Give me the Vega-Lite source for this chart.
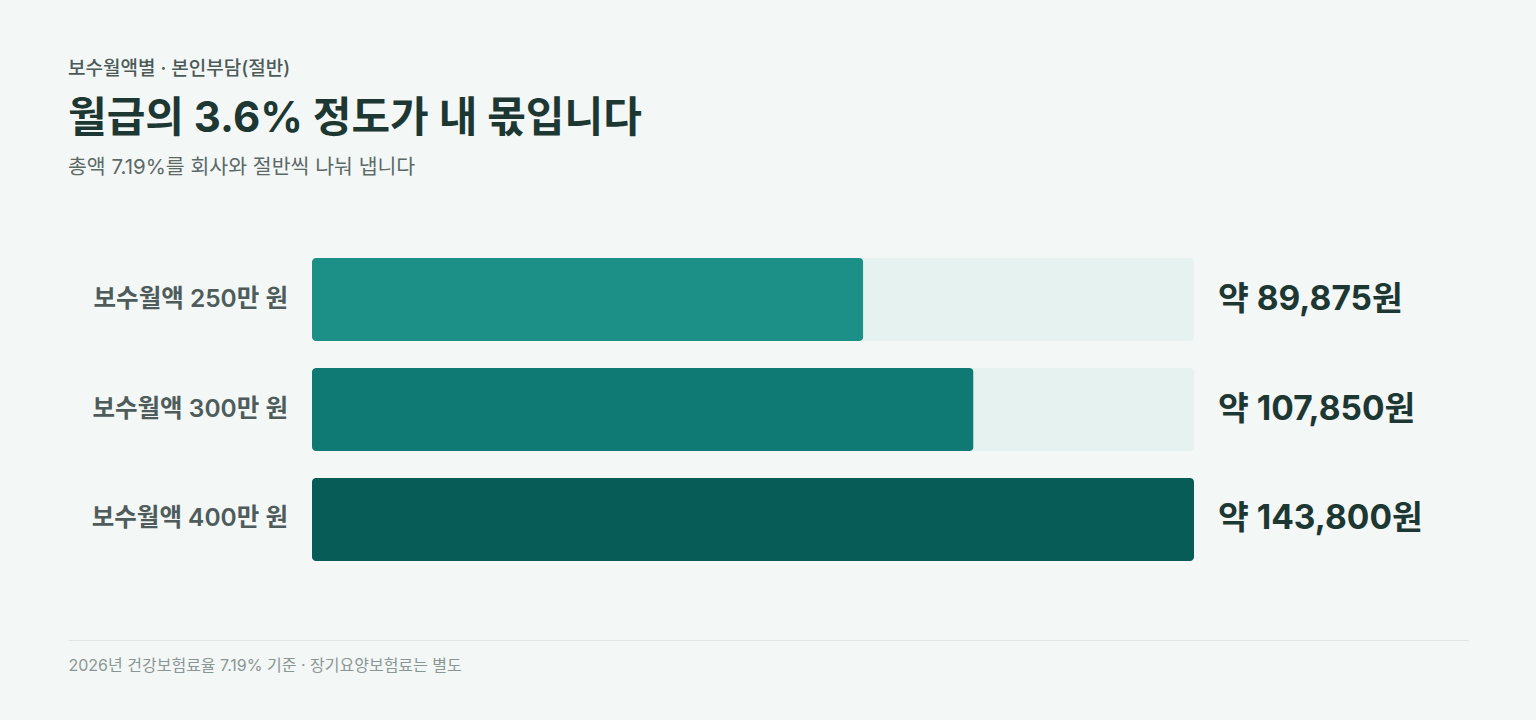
{
  "$schema": "https://vega.github.io/schema/vega-lite/v6.json",
  "background": "#f3f7f6",
  "padding": {"left": 68, "top": 59, "right": 68, "bottom": 47},
  "config": {
    "font": "Inter, 'Noto Sans CJK KR'",
    "view": {"stroke": null},
    "concat": {"spacing": 78}
  },
  "title": {
    "text": "보수월액별 · 본인부담(절반)",
    "anchor": "start",
    "fontSize": 19,
    "fontWeight": 500,
    "color": "#4c5a58",
    "offset": 19
  },
  "vconcat": [
    {
      "title": {
        "text": "월급의 3.6% 정도가 내 몫입니다",
        "subtitle": "총액 7.19%를 회사와 절반씩 나눠 냅니다",
        "anchor": "start",
        "fontSize": 42,
        "fontWeight": 700,
        "color": "#1d3733",
        "subtitleFontSize": 20.5,
        "subtitleColor": "#5b6967",
        "subtitlePadding": 17,
        "offset": 79
      },
      "width": 1126,
      "height": 303,
      "data": {
        "values": [
          {"label": "보수월액 250만 원", "value": 89875},
          {"label": "보수월액 300만 원", "value": 107850},
          {"label": "보수월액 400만 원", "value": 143800}
        ]
      },
      "transform": [
        {"calculate": "'약 ' + format(datum.value, ',') + '원'", "as": "display"}
      ],
      "encoding": {
        "y": {
          "field": "label",
          "type": "nominal",
          "sort": null,
          "scale": {"paddingInner": 0.245, "paddingOuter": 0},
          "axis": null
        }
      },
      "layer": [
        {
          "mark": {"type": "bar", "cornerRadius": 4, "color": "#e6f2f0"},
          "encoding": {
            "x": {
              "datum": 143800,
              "type": "quantitative",
              "scale": {"domain": [0, 143800], "nice": false, "range": [244, 1126]},
              "axis": null
            }
          }
        },
        {
          "mark": {"type": "bar", "cornerRadius": 4},
          "encoding": {
            "x": {"field": "value", "type": "quantitative"},
            "color": {
              "field": "label",
              "type": "nominal",
              "sort": null,
              "scale": {"range": ["#1c9087", "#0e7a73", "#075c57"]},
              "legend": null
            }
          }
        },
        {
          "mark": {
            "type": "text",
            "align": "right",
            "baseline": "middle",
            "dx": -24,
            "fontSize": 24.5,
            "fontWeight": 600,
            "color": "#4e5c5b"
          },
          "encoding": {
            "x": {"datum": 0, "type": "quantitative"},
            "text": {"field": "label", "type": "nominal"}
          }
        },
        {
          "mark": {
            "type": "text",
            "align": "left",
            "baseline": "middle",
            "dx": 24,
            "fontSize": 33.5,
            "fontWeight": 700,
            "color": "#1d3733"
          },
          "encoding": {
            "x": {"datum": 143800, "type": "quantitative"},
            "text": {"field": "display", "type": "nominal"}
          }
        }
      ]
    },
    {
      "width": 1400,
      "height": 1,
      "data": {"values": [{}]},
      "mark": {"type": "rule", "opacity": 0},
      "encoding": {
        "x": {
          "datum": 0,
          "type": "quantitative",
          "scale": {"domain": [0, 1]},
          "axis": {
            "orient": "bottom",
            "labels": false,
            "ticks": false,
            "grid": false,
            "domain": true,
            "domainColor": "#dfe6e4",
            "domainWidth": 1,
            "title": "2026년 건강보험료율 7.19% 기준 · 장기요양보험료는 별도",
            "titleAnchor": "start",
            "titleAlign": "left",
            "titleBaseline": "top",
            "titleFontSize": 16,
            "titleFontWeight": 400,
            "titleColor": "#8a9694",
            "titlePadding": 17
          }
        }
      }
    }
  ]
}
